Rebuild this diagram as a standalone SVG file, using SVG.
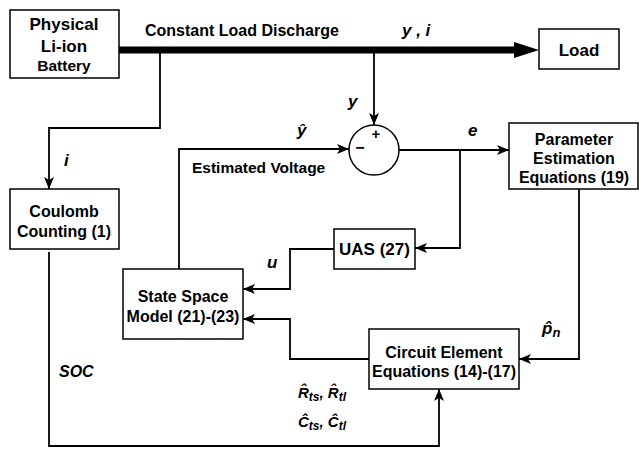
<svg xmlns="http://www.w3.org/2000/svg" width="639" height="449" viewBox="0 0 639 449">
<defs>
<style>
.box{fill:#fff;stroke:#000;stroke-width:1.5}
.t{font-family:"Liberation Sans",Arial,sans-serif;font-weight:bold;fill:#000}
.c{text-anchor:middle}
.i{font-style:italic}
.ln{fill:none;stroke:#000;stroke-width:1.8}
</style>
<marker id="arr" viewBox="0 0 12 10" refX="12" refY="5" markerWidth="12" markerHeight="10" markerUnits="userSpaceOnUse" orient="auto">
<path d="M0,0 L12,5 L0,10 L3,5 Z" fill="#000"/>
</marker>
</defs>
<rect width="639" height="449" fill="#fff"/>

<g id="connectors">
<line x1="119" y1="50" x2="518" y2="50" stroke="#000" stroke-width="7"/>
<polygon points="514,42 539,50 514,58" fill="#000"/>
<path class="ln" d="M160,50 V128 H49 V189" marker-end="url(#arr)"/>
<path class="ln" d="M374,50 V125" marker-end="url(#arr)"/>
<path class="ln" d="M179,269 V149 H349" marker-end="url(#arr)"/>
<path class="ln" d="M399,150 H509" marker-end="url(#arr)"/>
<path class="ln" d="M460,150 V248 H415" marker-end="url(#arr)"/>
<path class="ln" d="M334,249 H290 V289 H243" marker-end="url(#arr)"/>
<path class="ln" d="M579,189 V359 H519" marker-end="url(#arr)"/>
<path class="ln" d="M369,359 H290 V319 H243" marker-end="url(#arr)"/>
<path class="ln" d="M49,252 V446 H439 V389" marker-end="url(#arr)"/>
</g>

<g id="battery">
<rect class="box" x="10" y="10" width="109" height="68"/>
<text class="t c" x="64" y="30" font-size="17">Physical</text>
<text class="t c" x="64" y="52" font-size="17">Li-ion</text>
<text class="t c" x="64" y="71" font-size="15.5">Battery</text>
</g>

<g id="load">
<rect class="box" x="539" y="29" width="80" height="40"/>
<text class="t c" x="579" y="56" font-size="17">Load</text>
</g>

<g id="coulomb">
<rect class="box" x="10" y="189" width="109" height="60"/>
<text class="t c" x="64" y="217" font-size="16">Coulomb</text>
<text class="t c" x="64" y="237" font-size="16">Counting (1)</text>
</g>

<g id="junction">
<circle cx="374" cy="150" r="25" fill="#fff" stroke="#000" stroke-width="1.5"/>
<text class="t c" x="376" y="139" font-size="15">+</text>
<text class="t c" x="360" y="153" font-size="16">−</text>
</g>

<g id="param">
<rect class="box" x="509" y="123" width="129" height="66"/>
<text class="t c" x="574" y="145" font-size="16">Parameter</text>
<text class="t c" x="574" y="164" font-size="16">Estimation</text>
<text class="t c" x="574" y="183" font-size="16">Equations (19)</text>
</g>

<g id="uas">
<rect class="box" x="334" y="229" width="81" height="40"/>
<text class="t c" x="374.5" y="255" font-size="17">UAS (27)</text>
</g>

<g id="statespace">
<rect class="box" x="123" y="269" width="120" height="70"/>
<text class="t c" x="183" y="302" font-size="16">State Space</text>
<text class="t c" x="183" y="322" font-size="16">Model (21)-(23)</text>
</g>

<g id="circuit">
<rect class="box" x="369" y="329" width="150" height="60"/>
<text class="t c" x="444" y="358" font-size="16">Circuit Element</text>
<text class="t c" x="444" y="377" font-size="16">Equations (14)-(17)</text>
</g>

<g id="labels">
<text class="t" x="145" y="36" font-size="16">Constant Load Discharge</text>
<text class="t i" x="402" y="36" font-size="17">y , i</text>
<text class="t i" x="64" y="166" font-size="17">i</text>
<text class="t i" x="348" y="107" font-size="17">y</text>
<text class="t i" x="297" y="136" font-size="17">ŷ</text>
<text class="t i" x="468" y="136" font-size="17">e</text>
<text class="t" x="192" y="173" font-size="15.5">Estimated Voltage</text>
<text class="t i" x="267" y="268" font-size="17">u</text>
<text class="t i" x="59" y="377" font-size="16">SOC</text>
<text class="t i" x="542" y="334" font-size="17">p̂<tspan font-size="13" dy="3">n</tspan></text>
<text class="t i" x="298" y="398" font-size="15">R̂<tspan font-size="12" dy="3">ts</tspan><tspan dy="-3">, R̂</tspan><tspan font-size="12" dy="3">tl</tspan></text>
<text class="t i" x="298" y="427" font-size="15">Ĉ<tspan font-size="12" dy="3">ts</tspan><tspan dy="-3">, Ĉ</tspan><tspan font-size="12" dy="3">tl</tspan></text>
</g>
</svg>
